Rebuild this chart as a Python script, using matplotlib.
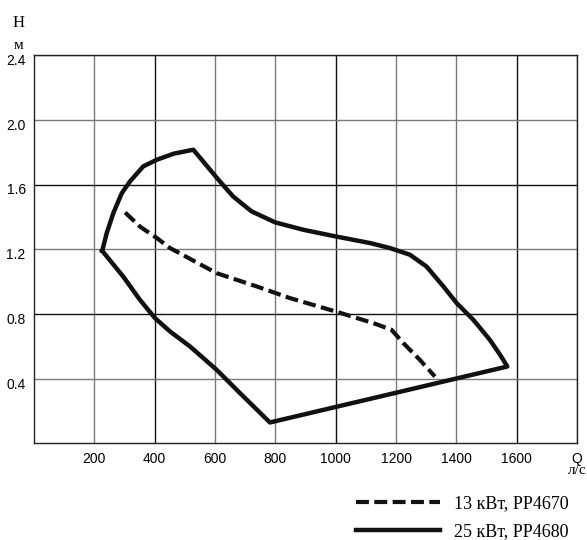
import numpy as np
from matplotlib import pyplot as plt
from matplotlib.transforms import ScaledTranslation

# outer contour, 25 kW (closed loop)
q25 = [226, 241, 263, 291, 318, 362, 407, 462, 528, 616, 660, 721, 799, 893, 1000,
       1114, 1180, 1246, 1301, 1357, 1401, 1456, 1511, 1545, 1569, 782, 683, 605,
       517, 451, 401, 351, 296, 226]
h25 = [1.19, 1.30, 1.424, 1.547, 1.619, 1.712, 1.753, 1.79, 1.815, 1.619, 1.526,
       1.434, 1.366, 1.32, 1.279, 1.238, 1.207, 1.166, 1.093, 0.97, 0.867, 0.764,
       0.64, 0.547, 0.475, 0.129, 0.31, 0.455, 0.599, 0.691, 0.774, 0.887, 1.03, 1.19]

# 13 kW curve
q13 = [302, 351, 407, 451, 605, 738, 848, 1000, 1125, 1185, 1224, 1279, 1329]
h13 = [1.427, 1.34, 1.269, 1.207, 1.052, 0.97, 0.898, 0.815, 0.743, 0.702, 0.62,
       0.516, 0.413]

xt = [200, 400, 600, 800, 1000, 1200, 1400, 1600, 1800]
xtl = ['200', '400', '600', '800', '1000', '1200', '1400', '1600', 'Q']
yt = [0.4, 0.8, 1.2, 1.6, 2.0, 2.4]
ytl = ['0.4', '0.8', '1.2', '1.6', '2.0', '2.4']

plt.rcParams['font.family'] = 'Liberation Sans'

fig = plt.figure(figsize=(5.87, 5.40), dpi=100)
ax = fig.add_axes([0.058, 0.179, 0.925, 0.719])

ax.plot(q13, h13, color='#111111', lw=3.0, ls=(0, (3.1, 1.3)),
        label='13 кВт, РР4670', solid_capstyle='butt')
ax.plot(q25, h25, color='#111111', lw=3.2, label='25 кВт, РР4680',
        solid_joinstyle='round')

ax.set_xlim(0, 1800)
ax.set_ylim(0, 2.4)
ax.set_xticks(xt)
ax.set_xticklabels(xtl, fontsize=10)
ax.set_yticks(yt)
ax.set_yticklabels(ytl, fontsize=10)
ax.tick_params(length=0)
ax.tick_params(axis='x', pad=6)
ax.tick_params(axis='y', pad=6)
for lbl in ax.get_yticklabels():
    lbl.set_transform(lbl.get_transform() + ScaledTranslation(0, -0.045, fig.dpi_scale_trans))

ax.grid(True, lw=1.0)
for v, g in zip(xt, ax.get_xgridlines()):
    g.set_color('#111111' if v in (400, 1000, 1600) else '#7a7a7a')
for v, g in zip(yt, ax.get_ygridlines()):
    g.set_color('#111111' if v in (0.8, 1.6) else '#7a7a7a')
for s in ax.spines.values():
    s.set_linewidth(1.0)
    s.set_color('#222222')

fig.text(0.032, 0.957, 'Н', family='Liberation Serif', fontsize=12, ha='center', va='center')
fig.text(0.031, 0.915, 'м', family='Liberation Serif', fontsize=11, ha='center', va='center')
fig.text(0.999, 0.128, 'л/с', family='Liberation Serif', fontsize=11, ha='right', va='center')

ax.legend(loc='center left', bbox_to_anchor=(0.6065, 0.0417), bbox_transform=fig.transFigure,
          frameon=False, prop={'family': 'Liberation Serif', 'size': 13},
          handlelength=4.65, handletextpad=0.8, labelspacing=0.6, borderpad=0,
          borderaxespad=0)

fig.savefig('out.png', dpi=100)
